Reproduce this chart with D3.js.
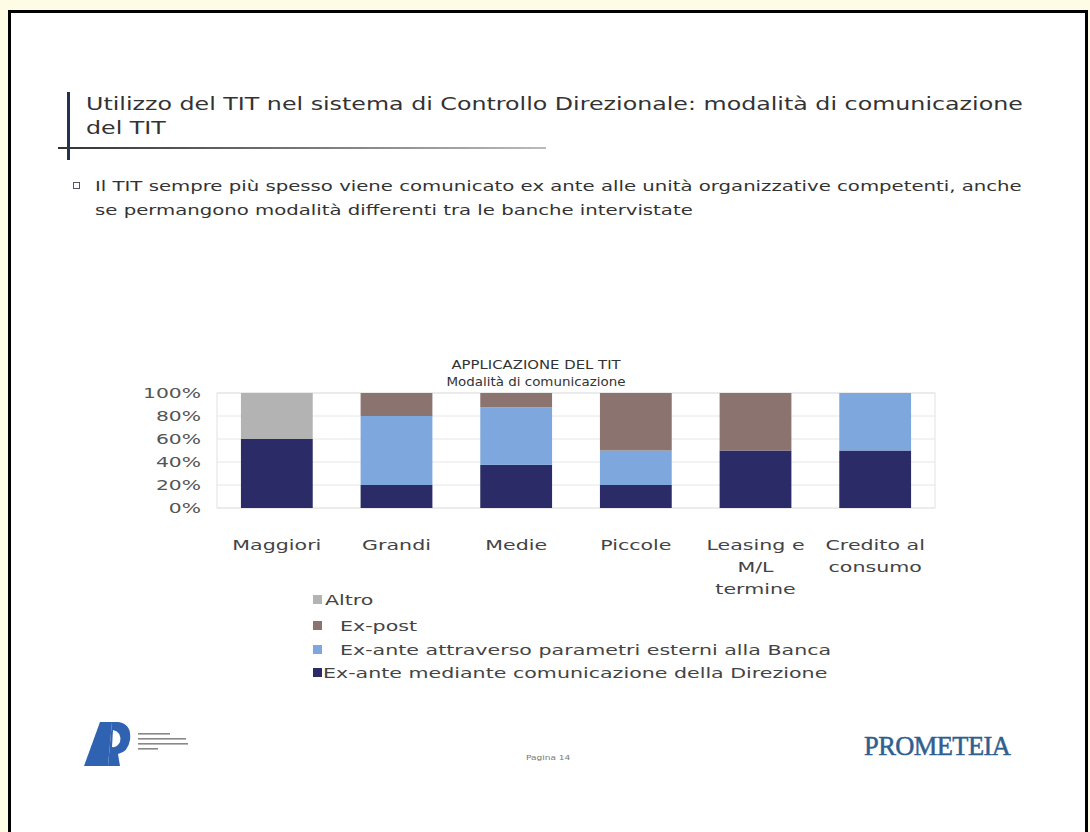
<!DOCTYPE html>
<meta charset='utf-8'>
<title>Utilizzo del TIT</title>
<style>
body {
  margin: 0;
  background-color: #fffce6;
}
</style>
<svg width="1090" height="832" font-family="DejaVu Sans, Verdana, sans-serif"></svg>
<script src="https://d3js.org/d3.v7.min.js"></script>
<script>

// chart data
var categories = ["Maggiori", "Grandi", "Medie", "Piccole", "Leasing e\nM/L\ntermine", "Credito al\nconsumo"];
var seriesNames = ["Ex-ante mediante comunicazione della Direzione",
                   "Ex-ante attraverso parametri esterni alla Banca",
                   "Ex-post",
                   "Altro"];
var direzione = [60, 20, 37.5, 20, 50, 50];
var esterni   = [0, 60, 50, 30, 0, 50];
var expost    = [0, 20, 12.5, 50, 50, 0];
var altro     = [40, 0, 0, 0, 0, 0];
var yTicks = [0, 20, 40, 60, 80, 100];

var colors = ["#2b2b68", "#7ea7de", "#8b7370", "#b3b3b3"];

var svg = d3.select("svg");

// the slide is wider than the fonts we have, so text gets stretched a bit
function stext(parent, str, x, y, size, sx, anchor, fill) {
  return parent.append("text")
      .attr("transform", "translate(" + x + "," + y + ") scale(" + sx + ",1)")
      .attr("text-anchor", anchor || "start")
      .attr("font-size", size)
      .attr("fill", fill || "#333")
      .text(str);
}

// page frame
svg.append("rect")
    .attr("x", 9.5).attr("y", 11.5)
    .attr("width", 1077).attr("height", 840)
    .attr("fill", "#fff")
    .attr("stroke", "#000")
    .attr("stroke-width", 3);

// title block
svg.append("rect")
    .attr("x", 67).attr("y", 92).attr("width", 3).attr("height", 68)
    .attr("fill", "#22324f");

var grad = svg.append("defs").append("linearGradient").attr("id", "rule");
grad.append("stop").attr("offset", "0%").attr("stop-color", "#333");
grad.append("stop").attr("offset", "100%").attr("stop-color", "#bbb");

svg.append("rect")
    .attr("x", 58).attr("y", 147).attr("width", 488).attr("height", 2)
    .attr("fill", "url(#rule)");

stext(svg, "Utilizzo del TIT nel sistema di Controllo Direzionale: modalità di comunicazione", 86, 110, 18, 1.32);
stext(svg, "del TIT", 86, 134, 18, 1.32);

// bullet
svg.append("rect")
    .attr("x", 73.5).attr("y", 182.5).attr("width", 6).attr("height", 6)
    .attr("fill", "none").attr("stroke", "#556").attr("stroke-width", 1);

stext(svg, "Il TIT sempre più spesso viene comunicato ex ante alle unità organizzative competenti, anche", 95, 191, 13.5, 1.46);
stext(svg, "se permangono modalità differenti tra le banche intervistate", 95, 215, 13.5, 1.46);

// chart titles
stext(svg, "APPLICAZIONE DEL TIT", 536, 369, 12, 1.24, "middle");
stext(svg, "Modalità di comunicazione", 536, 386, 12, 1.12, "middle");

// plot
var plotLeft = 217, plotRight = 935, plotTop = 393, plotBottom = 508;

var x = d3.scaleBand()
    .domain(categories)
    .range([plotLeft, plotRight])
    .paddingInner(0.4)
    .paddingOuter(0.2);

var y = d3.scaleLinear()
    .domain([0, 100])
    .range([plotBottom, plotTop]);

var g = svg.append("g");

// plot frame + gridlines
g.append("rect")
    .attr("x", plotLeft).attr("y", plotTop)
    .attr("width", plotRight - plotLeft).attr("height", plotBottom - plotTop)
    .attr("fill", "none").attr("stroke", "#e2e2e2");

g.selectAll("line.grid")
    .data(yTicks)
  .enter().append("line")
    .attr("class", "grid")
    .attr("x1", plotLeft).attr("x2", plotRight)
    .attr("y1", function(d) { return y(d); })
    .attr("y2", function(d) { return y(d); })
    .attr("stroke", "#e6e6e6");

var yAxis = d3.axisLeft(y)
    .tickValues(yTicks)
    .tickSize(0)
    .tickPadding(10)
    .tickFormat(function(d) { return d + "%"; });

var ga = svg.append("g")
    .attr("transform", "translate(" + (plotLeft - 2) + ",0)")
    .call(yAxis);
ga.select(".domain").remove();
ga.selectAll("text")
    .attr("font-family", "DejaVu Sans, sans-serif")
    .attr("font-size", 14.5)
    .attr("fill", "#555")
    .attr("transform", "scale(1.4,1)");

// stacked bars
var table = categories.map(function(c, i) {
  return { cat: c, s0: direzione[i], s1: esterni[i], s2: expost[i], s3: altro[i] };
});
var stack = d3.stack().keys(["s0", "s1", "s2", "s3"])(table);

g.selectAll("g.layer")
    .data(stack)
  .enter().append("g")
    .attr("class", "layer")
    .attr("fill", function(d, i) { return colors[i]; })
  .selectAll("rect")
    .data(function(d) { return d; })
  .enter().append("rect")
    .attr("x", function(d) { return x(d.data.cat); })
    .attr("width", x.bandwidth())
    .attr("y", function(d) { return y(d[1]); })
    .attr("height", function(d) { return y(d[0]) - y(d[1]); });

// category labels
categories.forEach(function(c) {
  c.split("\n").forEach(function(line, k) {
    stext(svg, line, x(c) + x.bandwidth() / 2, 550 + k * 22, 14.5, 1.42, "middle", "#444");
  });
});

// legend
var legendItems = [
  { name: seriesNames[3], color: colors[3], y: 605, tx: 325 },
  { name: seriesNames[2], color: colors[2], y: 631, tx: 340 },
  { name: seriesNames[1], color: colors[1], y: 655, tx: 340 },
  { name: seriesNames[0], color: colors[0], y: 678, tx: 323 }
];
var lg = svg.append("g");
legendItems.forEach(function(d) {
  lg.append("rect")
      .attr("x", 313).attr("y", d.y - 10)
      .attr("width", 9).attr("height", 9)
      .attr("fill", d.color);
  stext(lg, d.name, d.tx, d.y, 14.5, 1.42, "start", "#444");
});

// left logo
var logo = svg.append("g");
logo.append("path")
    .attr("d", "M84,766 L100,722 L112,722 L108,766 Z")
    .attr("fill", "#2f62b0");
logo.append("path")
    .attr("d", "M112,722 L118,722 Q132,724 130,740 Q128,752 118,754 L120,766 L108,766 Z")
    .attr("fill", "#2f62b0");
logo.append("path")
    .attr("d", "M113,730 Q122,732 120,742 Q117,748 112,747 Z")
    .attr("fill", "#fff");
[733, 738, 743, 748].forEach(function(yy, i) {
  logo.append("rect")
      .attr("x", 138).attr("y", yy)
      .attr("width", [32, 48, 50, 20][i]).attr("height", 1.6)
      .attr("fill", "#888");
});

// page number
stext(svg, "Pagina 14", 526, 760, 7.5, 1.2, "start", "#777");

// right logo
svg.append("text")
    .attr("x", 864).attr("y", 755)
    .attr("font-family", "Liberation Serif, serif")
    .attr("font-size", 26.5)
    .attr("letter-spacing", -0.6)
    .attr("fill", "#2f5f8f")
    .attr("stroke", "#2f5f8f")
    .attr("stroke-width", 0.5)
    .text("PROMETEIA");

</script>
